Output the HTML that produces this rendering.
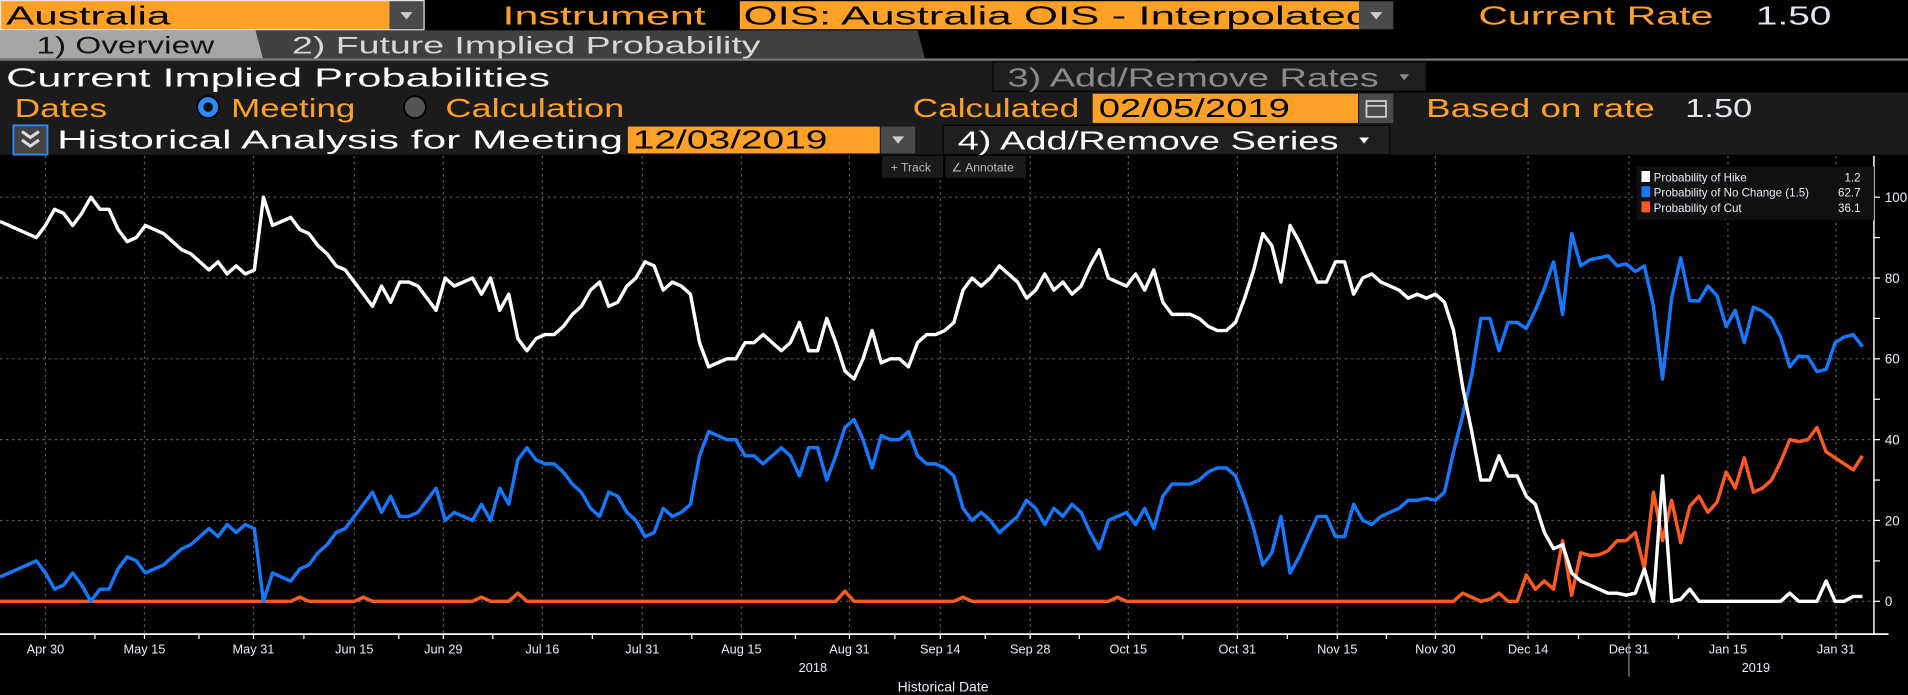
<!DOCTYPE html>
<html><head><meta charset="utf-8">
<style>
html,body{margin:0;padding:0;background:#000;width:1908px;height:695px;overflow:hidden}
svg{display:block}
text{font-family:"Liberation Sans",sans-serif}
</style></head>
<body>
<svg id="root" width="1908" height="695" viewBox="0 0 1568 571" preserveAspectRatio="none">
<rect x="0" y="0" width="1568" height="571" fill="#000"/>
<!-- Row 1 -->
<g>
<rect x="0" y="0" width="349" height="25" fill="#fff" opacity="0.9"/>
<rect x="1" y="1" width="319" height="23" fill="#ffa126"/>
<rect x="320" y="1" width="28" height="23" fill="#4a4a4a"/>
<path d="M329 10 L339 10 L334 16 Z" fill="#ccc"/>
<text x="5" y="20" font-size="21" fill="#000" textLength="135" lengthAdjust="spacingAndGlyphs">Australia</text>
</g>
<text x="413" y="20" font-size="21" fill="#ffa126" textLength="167" lengthAdjust="spacingAndGlyphs">Instrument</text>
<g>
<clipPath id="ic"><rect x="608" y="0" width="509" height="25"/></clipPath>
<rect x="608" y="1" width="509" height="23" fill="#ffa126"/>
<text x="611" y="20" font-size="21" fill="#000" textLength="515" lengthAdjust="spacingAndGlyphs" clip-path="url(#ic)">OIS: Australia OIS - Interpolated</text>
<rect x="1117" y="1" width="28" height="23" fill="#4a4a4a"/>
<path d="M1126 10 L1136 10 L1131 16 Z" fill="#ccc"/>
</g>
<text x="1215" y="20" font-size="21" fill="#ffa126" textLength="193" lengthAdjust="spacingAndGlyphs">Current Rate</text>
<text x="1443" y="20" font-size="21" fill="#e0e6ee" textLength="62" lengthAdjust="spacingAndGlyphs">1.50</text>
<!-- Row 2 tabs -->
<path d="M0 25 L258 25 L264 48 L0 48 Z" fill="#a6a6a6"/>
<text x="30" y="44" font-size="20" fill="#111" textLength="146" lengthAdjust="spacingAndGlyphs">1) Overview</text>
<path d="M262 25 L806 25 L812 48 L268 48 Z" fill="#404040" transform="translate(-52,0)"/>
<text x="240" y="44" font-size="20" fill="#d8d8d8" textLength="385" lengthAdjust="spacingAndGlyphs">2) Future Implied Probability</text>
<rect x="0" y="48" width="1568" height="2" fill="#777"/>
<!-- Row 3 -->
<rect x="0" y="50" width="1568" height="77" fill="#1b1b1b"/>
<rect x="982" y="50" width="586" height="26" fill="#000"/>
<text x="5" y="71" font-size="21" fill="#fff" textLength="447" lengthAdjust="spacingAndGlyphs">Current Implied Probabilities</text>
<g>
<rect x="816" y="51" width="356" height="24" fill="#1f1f1f" stroke="#050505"/>
<text x="828" y="71" font-size="21" fill="#8a8a8a" textLength="305" lengthAdjust="spacingAndGlyphs">3) Add/Remove Rates</text>
<path d="M1150 61 L1158 61 L1154 66 Z" fill="#8a8a8a"/>
</g>
<!-- Row 4 -->
<text x="12" y="96" font-size="21" fill="#ffa126" textLength="76" lengthAdjust="spacingAndGlyphs">Dates</text>
<g>
<circle cx="171" cy="88" r="9" fill="#2a8cff" stroke="#000" stroke-width="1.5"/>
<circle cx="171" cy="88" r="4" fill="#111"/>
<text x="190" y="96" font-size="21" fill="#ffa126" textLength="102" lengthAdjust="spacingAndGlyphs">Meeting</text>
</g>
<g>
<circle cx="341" cy="88" r="9" fill="#555" stroke="#000" stroke-width="1.5"/>
<text x="366" y="96" font-size="21" fill="#ffa126" textLength="147" lengthAdjust="spacingAndGlyphs">Calculation</text>
</g>
<text x="750" y="96" font-size="21" fill="#ffa126" textLength="137" lengthAdjust="spacingAndGlyphs">Calculated</text>
<g>
<rect x="898" y="77" width="218" height="24" fill="#ffa126"/>
<text x="903" y="96" font-size="21" fill="#000" textLength="157" lengthAdjust="spacingAndGlyphs">02/05/2019</text>
<rect x="1117" y="77" width="28" height="24" fill="#4a4a4a"/>
<rect x="1123" y="83" width="16" height="13" fill="none" stroke="#ccc" stroke-width="1.5"/>
<line x1="1123" y1="87" x2="1139" y2="87" stroke="#ccc" stroke-width="1.5"/>
</g>
<text x="1172" y="96" font-size="21" fill="#ffa126" textLength="188" lengthAdjust="spacingAndGlyphs">Based on rate</text>
<text x="1385" y="96" font-size="21" fill="#e0e6ee" textLength="55" lengthAdjust="spacingAndGlyphs">1.50</text>
<!-- Row 5 -->
<g>
<rect x="11" y="103" width="28" height="24" fill="#444" stroke="#2a8cff" stroke-width="1.5"/>
<path d="M18 108 L25 113 L32 108 M18 115 L25 120 L32 115" stroke="#ddd" stroke-width="2.5" fill="none"/>
</g>
<text x="47" y="122" font-size="21" fill="#fff" textLength="465" lengthAdjust="spacingAndGlyphs">Historical Analysis for Meeting</text>
<g>
<rect x="516" y="104" width="207" height="22" fill="#ffa126"/>
<text x="520" y="122" font-size="21" fill="#000" textLength="160" lengthAdjust="spacingAndGlyphs">12/03/2019</text>
<rect x="724" y="104" width="28" height="22" fill="#4a4a4a"/>
<path d="M733 112 L743 112 L738 118 Z" fill="#ccc"/>
</g>
<g>
<rect x="775" y="103" width="367" height="24" fill="#1f1f1f" stroke="#050505"/>
<text x="787" y="123" font-size="21" fill="#fff" textLength="313" lengthAdjust="spacingAndGlyphs">4) Add/Remove Series</text>
<path d="M1117 113 L1125 113 L1121 118 Z" fill="#fff"/>
</g>
<!-- chart -->
<g id="chart"></g>
<g>
<rect x="725" y="128" width="50" height="18" fill="#1b1b1b"/>
<text x="732" y="141" font-size="10" fill="#bbb">+ Track</text>
</g>
<g>
<rect x="777" y="128" width="66" height="18" fill="#1b1b1b"/>
<text x="782" y="141" font-size="10" fill="#bbb">∠ Annotate</text>
</g>
</svg>
<script>
const labelNames=["Apr 30","May 15","May 31","Jun 15","Jun 29","Jul 16","Jul 31","Aug 15","Aug 31","Sep 14","Sep 28","Oct 15","Oct 31","Nov 15","Nov 30","Dec 14","Dec 31","Jan 15","Jan 31"];
const labelIdx=[5,15.9,27.9,39,48.8,59.7,70.7,81.6,93.5,103.5,113.4,124.2,136.2,147.2,158,168.2,179.3,190.2,202.1];
const yTicks=[0,20,40,60,80,100];
const hike=[94,93,92,91,90,93,97,96,93,96,100,97,97,92,89,90,93,92,91,89,87,86,84,82,84,81,83,81,82,100,93,94,95,92,91,88,86,83,82,79,76,73,78,74,79,79,78,75,72,80,78,79,80,76,80,72,76,65,62,65,66,66,68,71,73,77,79,73,74,78,80,84,83,77,79,78,76,64,58,59,60,60,64,64,66,64,62,64,69,62,62,70,64,57,55,60,67,59,60,60,58,64,66,66,67,69,77,80,78,80,83,81,79,75,77,81,77,79,76,78,83,87,80,79,78,81,77,82,74,71,71,71,70,68,67,67,69,75,82,91,88,79,93,89,84,79,79,84,84,76,80,81,79,78,77,75,
76,75,76,74,67,53,42,30,30,36,31,31,26,24,17,13,14,7,5,4,3,2,2,1.5,2,8,0,31,0,0.5,3,0,0,0,0,0,0,0,0,0,0,2,0,0,0,5,0,0,1.2,1.2];
const noChange=[6,7,8,9,10,7,3,4,7,4,0,3,3,8,11,10,7,8,9,11,13,14,16,18,16,19,17,19,18,0,7,6,5,8,9,12,14,17,18,21,24,27,22,26,21,21,22,25,28,20,22,21,20,24,20,28,24,35,38,35,34,34,32,29,27,23,21,27,26,22,20,16,17,23,21,22,24,36,42,41,40,40,36,36,34,36,38,36,31,38,38,30,36,43,45,40,33,41,40,40,42,36,34,34,33,31,23,20,22,20,17,19,21,25,23,19,23,21,24,22,17,13,20,21,22,19,23,18,26,29,29,29,30,32,33,33,31,25,18,9,12,21,7,11,16,21,21,16,16,24,20,19,21,22,23,25,
25,25.5,25,27,37,46,56,70,70,62,69,69,67.5,72,77.5,84,71,91,83,84.5,85,85.5,83,83.5,81.6,83,73,55,75,85,74.4,74.3,78,75.6,68,72,64,72.8,71.8,70,65.4,58,60.7,60.5,56.8,57.4,64,65.4,66,63];
const cut=[0,0,0,0,0,0,0,0,0,0,0,0,0,0,0,0,0,0,0,0,0,0,0,0,0,0,0,0,0,0,0,0,0,1,0,0,0,0,0,0,1,0,0,0,0,0,0,0,0,0,0,0,0,1,0,0,0,2,0,0,0,0,0,0,0,0,0,0,0,0,0,0,0,0,0,0,0,0,0,0,0,0,0,0,0,0,0,0,0,0,0,0,0,2.5,0,0,0,0,0,0,0,0,0,0,0,0,1,0,0,0,0,0,0,0,0,0,0,0,0,0,0,0,0,1,0,0,0,0,0,0,0,0,0,0,0,0,0,0,0,0,0,0,0,0,0,0,0,0,0,0,0,0,0,0,0,0,
0,0,0,0,0,2,1,0,0.5,2,0,0,6.5,3,5,3,15,1.5,12,11.3,11.5,12.5,15,15,17,8,27,15,25,14.5,23.5,26,22,24.5,32,28,35.5,27,28,30,34.5,40,39.5,40,43,37,35.5,34,32.5,36];
const seriesNames=["Probability of Hike","Probability of No Change (1.5)","Probability of Cut"];
const lastValues=["1.2","62.7","36.1"];

const NS="http://www.w3.org/2000/svg";
const chart=document.getElementById('chart');
const PX=7.466, Y0=494, YS=3.32, AXR=1540, AXB=521;
function xs(i){return i*PX;}
function ys(v){return Y0-v*YS;}
function mk(tag,attrs,parent){const e=document.createElementNS(NS,tag);for(const k in attrs)e.setAttribute(k,attrs[k]);(parent||chart).appendChild(e);return e;}

// grid
yTicks.forEach(t=>{
 const g=mk('line',{x1:0,x2:AXR,y1:ys(t),y2:ys(t),stroke:'#5a5a5a','stroke-dasharray':'2,3'});
 
 
});
labelIdx.forEach(i=>{
 const g=mk('line',{x1:xs(i),x2:xs(i),y1:128,y2:AXB,stroke:'#5a5a5a','stroke-dasharray':'2,3'});
 
 
});
// right axis
const ra=mk('line',{x1:AXR,x2:AXR,y1:128,y2:AXB,stroke:'#fff','stroke-width':1.2});


for(let v=0;v<=100;v+=10){
 mk('line',{x1:AXR,x2:AXR+5,y1:ys(v),y2:ys(v),stroke:'#fff'});
}
yTicks.forEach(t=>{
 const tx=mk('text',{x:AXR+9,y:ys(t)+4,'font-size':11,fill:'#e8eef8'});
 tx.textContent=String(t);
 
 
});
// x axis
const xa=mk('line',{x1:0,x2:1552,y1:AXB,y2:AXB,stroke:'#fff','stroke-width':1.5});


labelIdx.forEach((i,k)=>{
 mk('line',{x1:xs(i),x2:xs(i),y1:AXB,y2:AXB+4,stroke:'#fff'});
 if(k<labelIdx.length-1){const m=(i+labelIdx[k+1])/2;mk('line',{x1:xs(m),x2:xs(m),y1:AXB,y2:AXB+4,stroke:'#fff'});}
 const tx=mk('text',{x:xs(i),y:537,'font-size':10.5,fill:'#e8eef8','text-anchor':'middle'});
 tx.textContent=labelNames[k];
 
 
});
const y18=mk('text',{x:668,y:552,'font-size':10.5,fill:'#e8eef8','text-anchor':'middle'});y18.textContent='2018';


const y19=mk('text',{x:1443,y:552,'font-size':10.5,fill:'#e8eef8','text-anchor':'middle'});y19.textContent='2019';


mk('line',{x1:xs(179.3),x2:xs(179.3),y1:528,y2:556,stroke:'#888'});
const xt=mk('text',{x:775,y:568,'font-size':11.5,fill:'#e8eef8','text-anchor':'middle'});xt.textContent='Historical Date';



// series
const colors=['#ffffff','#1479ff','#ff5a1f'];
const data=[hike,noChange,cut];
const names=['hike-line','no-change-line','cut-line'];
[2,1,0].forEach(s=>{
 const d=data[s].map((v,i)=>(i?'L':'M')+xs(i).toFixed(2)+' '+ys(v).toFixed(2)).join(' ');
 const p=mk('path',{d:d,fill:'none',stroke:colors[s],'stroke-width':2.8,'stroke-linejoin':'round'});
 
 
});

// legend
const lg=mk('g',{});


mk('rect',{x:1345,y:137,width:195,height:44,fill:'#101010'},lg);
seriesNames.forEach((n,k)=>{
 const y=146+k*12.5;
 mk('rect',{x:1349,y:y-5.5,width:7,height:9,fill:colors[k]},lg);
 const t=mk('text',{x:1359,y:y+3,'font-size':9.5,fill:'#e8eef8'},lg);
 t.textContent=n;
 
 
 const v=mk('text',{x:1529,y:y+3,'font-size':9.5,fill:'#e8eef8','text-anchor':'end'},lg);
 v.textContent=lastValues[k];
 
 
});
</script>
</body></html>
